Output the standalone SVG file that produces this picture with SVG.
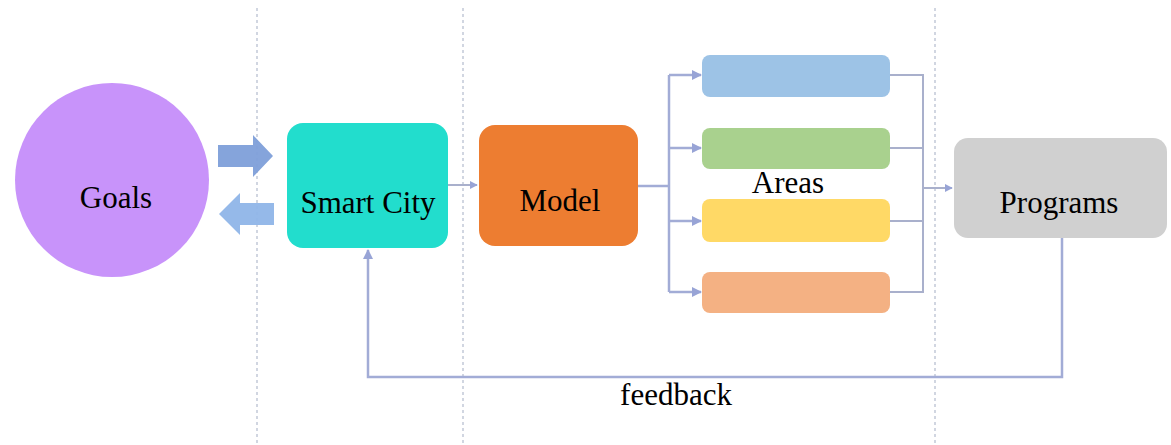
<svg xmlns="http://www.w3.org/2000/svg" width="1171" height="445" viewBox="0 0 1171 445">
<style>
.guide{stroke:#b9c1d2;stroke-width:1.3;stroke-dasharray:3 3;fill:none}
.conn{stroke:#a2acd6;stroke-width:2.5;fill:none}
.thin{stroke:#a9b0cc;stroke-width:2;fill:none}
</style>
<defs>
<marker id="ah" viewBox="0 0 10 10" refX="9" refY="5" markerWidth="4" markerHeight="4" orient="auto" markerUnits="strokeWidth">
<path d="M0,0 L10,5 L0,10 z" fill="#98a4d6"/>
</marker>
</defs>
<rect width="1171" height="445" fill="#fff"/>
<g id="guides">
<line class="guide" x1="257" y1="8" x2="257" y2="445"/>
<line class="guide" x1="463" y1="8" x2="463" y2="445"/>
<line class="guide" x1="935" y1="8" x2="935" y2="445"/>
</g>
<g id="connectors">
<path d="M218,145 H253 V135 L273,156 L253,177 V167 H218 Z" fill="#7e9fd9" opacity="0.95"/>
<path d="M274,203 H240 V193 L219,214 L240,235 V225 H274 Z" fill="#8fb5e8" opacity="0.95"/>
<line class="thin" x1="448" y1="185" x2="477" y2="185" marker-end="url(#ah)"/>
<path class="conn" d="M638,186 H669"/>
<path class="conn" d="M669,75 V292"/>
<line class="conn" x1="669" y1="75" x2="701" y2="75" marker-end="url(#ah)"/>
<line class="conn" x1="669" y1="148" x2="701" y2="148" marker-end="url(#ah)"/>
<line class="conn" x1="669" y1="221" x2="701" y2="221" marker-end="url(#ah)"/>
<line class="conn" x1="669" y1="292" x2="701" y2="292" marker-end="url(#ah)"/>
<path class="thin" d="M890,75 H923 M890,148 H923 M890,221 H923 M890,292 H923 M923,74 V293"/>
<line class="thin" x1="923" y1="188" x2="952" y2="188" marker-end="url(#ah)"/>
<path class="conn" d="M1062,238 V377 H368 V250" marker-end="url(#ah)"/>
</g>
<g id="goals">
<circle cx="112" cy="180" r="97" fill="#c893fa"/>
<text x="116" y="208" font-family="'Liberation Serif', serif" font-size="31" text-anchor="middle">Goals</text>
</g>
<g id="smart-city">
<rect x="287" y="123" width="161" height="125" rx="16" fill="#22ddcd"/>
<text x="368" y="213" font-family="'Liberation Serif', serif" font-size="31" text-anchor="middle">Smart City</text>
</g>
<g id="model">
<rect x="479" y="125" width="159" height="121" rx="16" fill="#ed7d31"/>
<text x="560" y="211" font-family="'Liberation Serif', serif" font-size="31" text-anchor="middle">Model</text>
</g>
<g id="area-1"><rect x="702" y="55" width="188" height="42" rx="8" fill="#9dc3e6"/></g>
<g id="area-2"><rect x="702" y="128" width="188" height="41" rx="8" fill="#a9d18e"/></g>
<g id="area-3"><rect x="702" y="199" width="188" height="43" rx="8" fill="#ffd966"/></g>
<g id="area-4"><rect x="702" y="272" width="188" height="41" rx="8" fill="#f4b183"/></g>
<g id="areas-label"><text x="788" y="193" font-family="'Liberation Serif', serif" font-size="31" text-anchor="middle">Areas</text></g>
<g id="programs">
<rect x="954" y="138" width="213" height="100" rx="14" fill="#d0d0d0"/>
<text x="1059" y="213" font-family="'Liberation Serif', serif" font-size="31" text-anchor="middle">Programs</text>
</g>
<g id="feedback-label"><text x="676" y="405" font-family="'Liberation Serif', serif" font-size="31" text-anchor="middle">feedback</text></g>
</svg>
